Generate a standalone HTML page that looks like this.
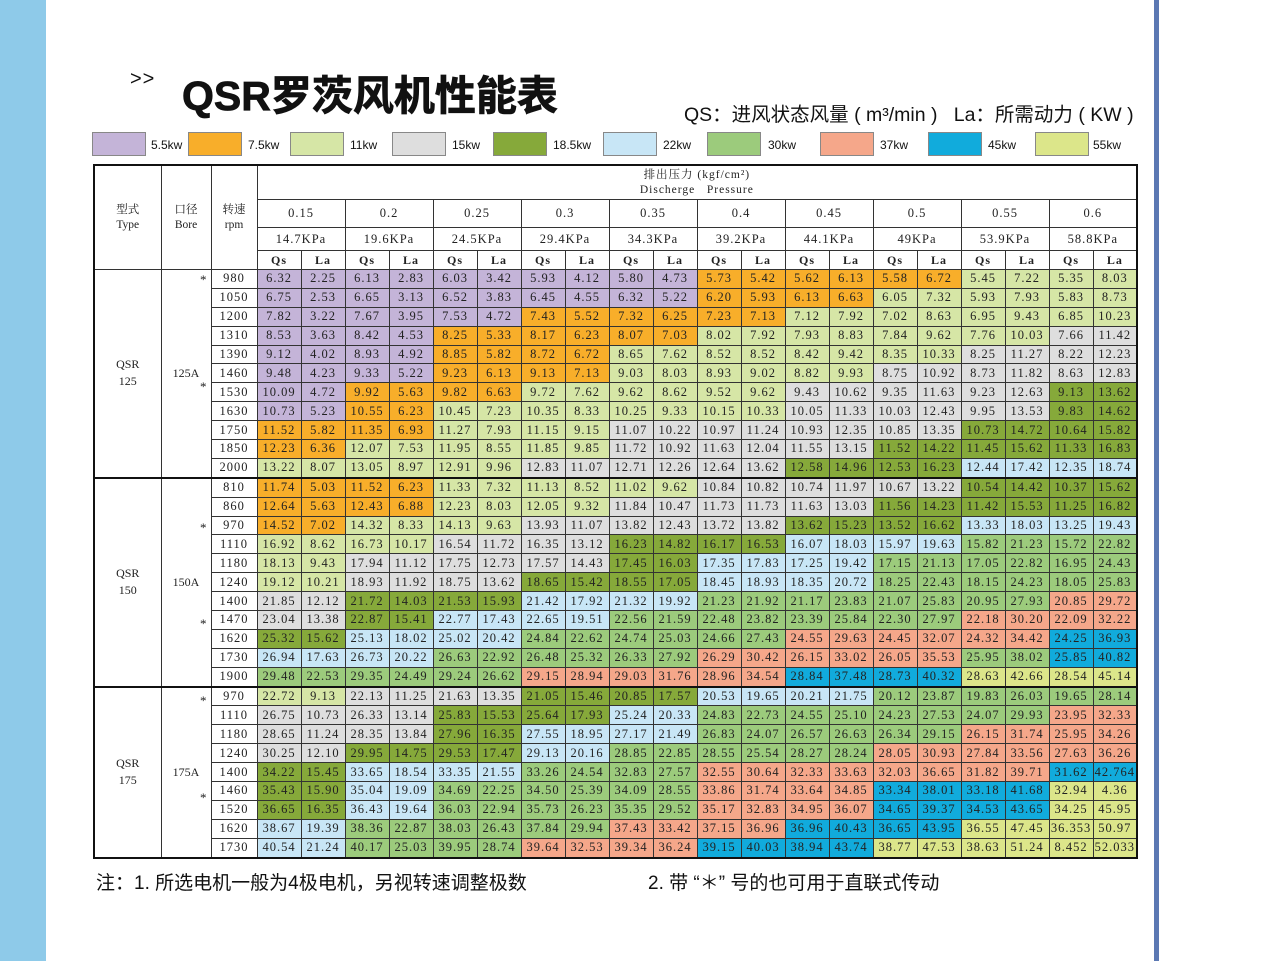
<!DOCTYPE html>
<html><head><meta charset="utf-8"><style>
html,body{margin:0;padding:0;}
body{width:1269px;height:961px;position:relative;background:#fff;overflow:hidden;font-family:"Liberation Sans","Noto Sans CJK SC",sans-serif;}
.band{position:absolute;left:0;top:0;width:46px;height:961px;background:#8ecae9;}
.rline{position:absolute;left:1154px;top:0;width:5px;height:961px;background:#5b78b3;}
.gt{position:absolute;left:130px;top:68px;font-size:20px;color:#111;letter-spacing:1px;}
.title{position:absolute;left:182px;top:62px;font-size:41px;font-weight:bold;color:#111;white-space:nowrap;font-family:"Liberation Sans","Noto Sans CJK SC",sans-serif;-webkit-text-stroke:0.8px #111;}
.sub{position:absolute;left:684px;top:98px;font-size:19.5px;color:#111;white-space:nowrap;}
.sw{position:absolute;top:132px;width:52px;height:22px;border:1px solid #888;}
.lb{position:absolute;top:138px;font-size:12px;color:#111;}
table{position:absolute;left:93px;top:164px;width:1043px;border-collapse:collapse;table-layout:fixed;border:2px solid #111;font-family:"Liberation Serif","Noto Serif CJK SC",serif;font-size:12.5px;color:#222;}
td{border:1px solid #333;text-align:center;padding:0;overflow:hidden;white-space:nowrap;letter-spacing:1px;}
tr.dr td{height:17.9px;line-height:17px;}
.h1 td{height:33px;font-size:11.5px;line-height:15px;}
.h2 td{height:27px;}
.h3 td{height:22px;}
.h4 td{height:18px;font-weight:bold;font-size:12px;}
.hd{font-size:12px;line-height:16px;letter-spacing:0;}
.sep td{border-top:2px solid #111;}
.bore{position:relative;}
.st{position:absolute;right:4px;font-size:13px;}
.a{background:#c4b4d8}.b{background:#f8ae2a}.c{background:#d6e6a6}.d{background:#dedede}.e{background:#86a93a}.f{background:#c8e6f6}.g{background:#9ccb7c}.h{background:#f5a78a}.i{background:#11abdc}.j{background:#dce68a}
.foot{position:absolute;top:868px;font-size:19px;color:#111;white-space:nowrap;}
</style></head><body>
<div class="band"></div><div class="rline"></div>
<div class="gt">&gt;&gt;</div>
<div class="title">QSR罗茨风机性能表</div>
<div class="sub">QS：进风状态风量 ( m³/min )&nbsp;&nbsp;&nbsp;La：所需动力 ( KW )</div>
<div class="sw a" style="left:92px"></div><div class="lb" style="left:151px">5.5kw</div>
<div class="sw b" style="left:188px"></div><div class="lb" style="left:248px">7.5kw</div>
<div class="sw c" style="left:290px"></div><div class="lb" style="left:350px">11kw</div>
<div class="sw d" style="left:392px"></div><div class="lb" style="left:452px">15kw</div>
<div class="sw e" style="left:493px"></div><div class="lb" style="left:553px">18.5kw</div>
<div class="sw f" style="left:603px"></div><div class="lb" style="left:663px">22kw</div>
<div class="sw g" style="left:707px"></div><div class="lb" style="left:768px">30kw</div>
<div class="sw h" style="left:820px"></div><div class="lb" style="left:880px">37kw</div>
<div class="sw i" style="left:928px"></div><div class="lb" style="left:988px">45kw</div>
<div class="sw j" style="left:1035px"></div><div class="lb" style="left:1093px">55kw</div>
<table>
<colgroup><col style="width:67px"><col style="width:50px"><col style="width:46px">
<col style="width:44px"><col style="width:44px"><col style="width:44px"><col style="width:44px"><col style="width:44px"><col style="width:44px"><col style="width:44px"><col style="width:44px"><col style="width:44px"><col style="width:44px"><col style="width:44px"><col style="width:44px"><col style="width:44px"><col style="width:44px"><col style="width:44px"><col style="width:44px"><col style="width:44px"><col style="width:44px"><col style="width:44px"><col style="width:44px"></colgroup>
<tr class="h1"><td rowspan="4" class="hd">型式<br>Type</td><td rowspan="4" class="hd">口径<br>Bore</td><td rowspan="4" class="hd">转速<br>rpm</td><td colspan="20">排出压力 (kgf/cm²)<br>Discherge&nbsp;&nbsp;&nbsp;Pressure</td></tr>
<tr class="h2"><td colspan="2">0.15</td><td colspan="2">0.2</td><td colspan="2">0.25</td><td colspan="2">0.3</td><td colspan="2">0.35</td><td colspan="2">0.4</td><td colspan="2">0.45</td><td colspan="2">0.5</td><td colspan="2">0.55</td><td colspan="2">0.6</td></tr>
<tr class="h3"><td colspan="2">14.7KPa</td><td colspan="2">19.6KPa</td><td colspan="2">24.5KPa</td><td colspan="2">29.4KPa</td><td colspan="2">34.3KPa</td><td colspan="2">39.2KPa</td><td colspan="2">44.1KPa</td><td colspan="2">49KPa</td><td colspan="2">53.9KPa</td><td colspan="2">58.8KPa</td></tr>
<tr class="h4"><td>Qs</td><td>La</td><td>Qs</td><td>La</td><td>Qs</td><td>La</td><td>Qs</td><td>La</td><td>Qs</td><td>La</td><td>Qs</td><td>La</td><td>Qs</td><td>La</td><td>Qs</td><td>La</td><td>Qs</td><td>La</td><td>Qs</td><td>La</td></tr>
<!-- 125A -->
<tr class="dr"><td rowspan="11" class="hd">QSR<br>125</td><td rowspan="11" class="bore hd"><span class="st" style="top:1px">*</span>125A<span class="st" style="top:108px">*</span></td><td>980</td><td class="a">6.32</td><td class="a">2.25</td><td class="a">6.13</td><td class="a">2.83</td><td class="a">6.03</td><td class="a">3.42</td><td class="a">5.93</td><td class="a">4.12</td><td class="a">5.80</td><td class="a">4.73</td><td class="b">5.73</td><td class="b">5.42</td><td class="b">5.62</td><td class="b">6.13</td><td class="b">5.58</td><td class="b">6.72</td><td class="c">5.45</td><td class="c">7.22</td><td class="c">5.35</td><td class="c">8.03</td></tr>
<tr class="dr"><td>1050</td><td class="a">6.75</td><td class="a">2.53</td><td class="a">6.65</td><td class="a">3.13</td><td class="a">6.52</td><td class="a">3.83</td><td class="a">6.45</td><td class="a">4.55</td><td class="a">6.32</td><td class="a">5.22</td><td class="b">6.20</td><td class="b">5.93</td><td class="b">6.13</td><td class="b">6.63</td><td class="c">6.05</td><td class="c">7.32</td><td class="c">5.93</td><td class="c">7.93</td><td class="c">5.83</td><td class="c">8.73</td></tr>
<tr class="dr"><td>1200</td><td class="a">7.82</td><td class="a">3.22</td><td class="a">7.67</td><td class="a">3.95</td><td class="a">7.53</td><td class="a">4.72</td><td class="b">7.43</td><td class="b">5.52</td><td class="b">7.32</td><td class="b">6.25</td><td class="b">7.23</td><td class="b">7.13</td><td class="c">7.12</td><td class="c">7.92</td><td class="c">7.02</td><td class="c">8.63</td><td class="c">6.95</td><td class="c">9.43</td><td class="c">6.85</td><td class="c">10.23</td></tr>
<tr class="dr"><td>1310</td><td class="a">8.53</td><td class="a">3.63</td><td class="a">8.42</td><td class="a">4.53</td><td class="b">8.25</td><td class="b">5.33</td><td class="b">8.17</td><td class="b">6.23</td><td class="b">8.07</td><td class="b">7.03</td><td class="c">8.02</td><td class="c">7.92</td><td class="c">7.93</td><td class="c">8.83</td><td class="c">7.84</td><td class="c">9.62</td><td class="c">7.76</td><td class="c">10.03</td><td class="d">7.66</td><td class="d">11.42</td></tr>
<tr class="dr"><td>1390</td><td class="a">9.12</td><td class="a">4.02</td><td class="a">8.93</td><td class="a">4.92</td><td class="b">8.85</td><td class="b">5.82</td><td class="b">8.72</td><td class="b">6.72</td><td class="c">8.65</td><td class="c">7.62</td><td class="c">8.52</td><td class="c">8.52</td><td class="c">8.42</td><td class="c">9.42</td><td class="c">8.35</td><td class="c">10.33</td><td class="d">8.25</td><td class="d">11.27</td><td class="d">8.22</td><td class="d">12.23</td></tr>
<tr class="dr"><td>1460</td><td class="a">9.48</td><td class="a">4.23</td><td class="a">9.33</td><td class="a">5.22</td><td class="b">9.23</td><td class="b">6.13</td><td class="b">9.13</td><td class="b">7.13</td><td class="c">9.03</td><td class="c">8.03</td><td class="c">8.93</td><td class="c">9.02</td><td class="c">8.82</td><td class="c">9.93</td><td class="d">8.75</td><td class="d">10.92</td><td class="d">8.73</td><td class="d">11.82</td><td class="d">8.63</td><td class="d">12.83</td></tr>
<tr class="dr"><td>1530</td><td class="a">10.09</td><td class="a">4.72</td><td class="b">9.92</td><td class="b">5.63</td><td class="b">9.82</td><td class="b">6.63</td><td class="c">9.72</td><td class="c">7.62</td><td class="c">9.62</td><td class="c">8.62</td><td class="c">9.52</td><td class="c">9.62</td><td class="d">9.43</td><td class="d">10.62</td><td class="d">9.35</td><td class="d">11.63</td><td class="d">9.23</td><td class="d">12.63</td><td class="e">9.13</td><td class="e">13.62</td></tr>
<tr class="dr"><td>1630</td><td class="a">10.73</td><td class="a">5.23</td><td class="b">10.55</td><td class="b">6.23</td><td class="c">10.45</td><td class="c">7.23</td><td class="c">10.35</td><td class="c">8.33</td><td class="c">10.25</td><td class="c">9.33</td><td class="c">10.15</td><td class="c">10.33</td><td class="d">10.05</td><td class="d">11.33</td><td class="d">10.03</td><td class="d">12.43</td><td class="d">9.95</td><td class="d">13.53</td><td class="e">9.83</td><td class="e">14.62</td></tr>
<tr class="dr"><td>1750</td><td class="b">11.52</td><td class="b">5.82</td><td class="b">11.35</td><td class="b">6.93</td><td class="c">11.27</td><td class="c">7.93</td><td class="c">11.15</td><td class="c">9.15</td><td class="d">11.07</td><td class="d">10.22</td><td class="d">10.97</td><td class="d">11.24</td><td class="d">10.93</td><td class="d">12.35</td><td class="d">10.85</td><td class="d">13.35</td><td class="e">10.73</td><td class="e">14.72</td><td class="e">10.64</td><td class="e">15.82</td></tr>
<tr class="dr"><td>1850</td><td class="b">12.23</td><td class="b">6.36</td><td class="c">12.07</td><td class="c">7.53</td><td class="c">11.95</td><td class="c">8.55</td><td class="c">11.85</td><td class="c">9.85</td><td class="d">11.72</td><td class="d">10.92</td><td class="d">11.63</td><td class="d">12.04</td><td class="d">11.55</td><td class="d">13.15</td><td class="e">11.52</td><td class="e">14.22</td><td class="e">11.45</td><td class="e">15.62</td><td class="e">11.33</td><td class="e">16.83</td></tr>
<tr class="dr"><td>2000</td><td class="c">13.22</td><td class="c">8.07</td><td class="c">13.05</td><td class="c">8.97</td><td class="c">12.91</td><td class="c">9.96</td><td class="d">12.83</td><td class="d">11.07</td><td class="d">12.71</td><td class="d">12.26</td><td class="d">12.64</td><td class="d">13.62</td><td class="e">12.58</td><td class="e">14.96</td><td class="e">12.53</td><td class="e">16.23</td><td class="f">12.44</td><td class="f">17.42</td><td class="f">12.35</td><td class="f">18.74</td></tr>
<!-- 150A -->
<tr class="dr sep"><td rowspan="11" class="hd">QSR<br>150</td><td rowspan="11" class="bore hd"><span class="st" style="top:40px">*</span>150A<span class="st" style="top:136px">*</span></td><td>810</td><td class="b">11.74</td><td class="b">5.03</td><td class="b">11.52</td><td class="b">6.23</td><td class="c">11.33</td><td class="c">7.32</td><td class="c">11.13</td><td class="c">8.52</td><td class="c">11.02</td><td class="c">9.62</td><td class="d">10.84</td><td class="d">10.82</td><td class="d">10.74</td><td class="d">11.97</td><td class="d">10.67</td><td class="d">13.22</td><td class="e">10.54</td><td class="e">14.42</td><td class="e">10.37</td><td class="e">15.62</td></tr>
<tr class="dr"><td>860</td><td class="b">12.64</td><td class="b">5.63</td><td class="b">12.43</td><td class="b">6.88</td><td class="c">12.23</td><td class="c">8.03</td><td class="c">12.05</td><td class="c">9.32</td><td class="d">11.84</td><td class="d">10.47</td><td class="d">11.73</td><td class="d">11.73</td><td class="d">11.63</td><td class="d">13.03</td><td class="e">11.56</td><td class="e">14.23</td><td class="e">11.42</td><td class="e">15.53</td><td class="e">11.25</td><td class="e">16.82</td></tr>
<tr class="dr"><td>970</td><td class="b">14.52</td><td class="b">7.02</td><td class="c">14.32</td><td class="c">8.33</td><td class="c">14.13</td><td class="c">9.63</td><td class="d">13.93</td><td class="d">11.07</td><td class="d">13.82</td><td class="d">12.43</td><td class="d">13.72</td><td class="d">13.82</td><td class="e">13.62</td><td class="e">15.23</td><td class="e">13.52</td><td class="e">16.62</td><td class="f">13.33</td><td class="f">18.03</td><td class="f">13.25</td><td class="f">19.43</td></tr>
<tr class="dr"><td>1110</td><td class="c">16.92</td><td class="c">8.62</td><td class="c">16.73</td><td class="c">10.17</td><td class="d">16.54</td><td class="d">11.72</td><td class="d">16.35</td><td class="d">13.12</td><td class="e">16.23</td><td class="e">14.82</td><td class="e">16.17</td><td class="e">16.53</td><td class="f">16.07</td><td class="f">18.03</td><td class="f">15.97</td><td class="f">19.63</td><td class="g">15.82</td><td class="g">21.23</td><td class="g">15.72</td><td class="g">22.82</td></tr>
<tr class="dr"><td>1180</td><td class="c">18.13</td><td class="c">9.43</td><td class="d">17.94</td><td class="d">11.12</td><td class="d">17.75</td><td class="d">12.73</td><td class="d">17.57</td><td class="d">14.43</td><td class="e">17.45</td><td class="e">16.03</td><td class="f">17.35</td><td class="f">17.83</td><td class="f">17.25</td><td class="f">19.42</td><td class="g">17.15</td><td class="g">21.13</td><td class="g">17.05</td><td class="g">22.82</td><td class="g">16.95</td><td class="g">24.43</td></tr>
<tr class="dr"><td>1240</td><td class="c">19.12</td><td class="c">10.21</td><td class="d">18.93</td><td class="d">11.92</td><td class="d">18.75</td><td class="d">13.62</td><td class="e">18.65</td><td class="e">15.42</td><td class="e">18.55</td><td class="e">17.05</td><td class="f">18.45</td><td class="f">18.93</td><td class="f">18.35</td><td class="f">20.72</td><td class="g">18.25</td><td class="g">22.43</td><td class="g">18.15</td><td class="g">24.23</td><td class="g">18.05</td><td class="g">25.83</td></tr>
<tr class="dr"><td>1400</td><td class="d">21.85</td><td class="d">12.12</td><td class="e">21.72</td><td class="e">14.03</td><td class="e">21.53</td><td class="e">15.93</td><td class="f">21.42</td><td class="f">17.92</td><td class="f">21.32</td><td class="f">19.92</td><td class="g">21.23</td><td class="g">21.92</td><td class="g">21.17</td><td class="g">23.83</td><td class="g">21.07</td><td class="g">25.83</td><td class="g">20.95</td><td class="g">27.93</td><td class="h">20.85</td><td class="h">29.72</td></tr>
<tr class="dr"><td>1470</td><td class="d">23.04</td><td class="d">13.38</td><td class="e">22.87</td><td class="e">15.41</td><td class="f">22.77</td><td class="f">17.43</td><td class="f">22.65</td><td class="f">19.51</td><td class="g">22.56</td><td class="g">21.59</td><td class="g">22.48</td><td class="g">23.82</td><td class="g">23.39</td><td class="g">25.84</td><td class="g">22.30</td><td class="g">27.97</td><td class="h">22.18</td><td class="h">30.20</td><td class="h">22.09</td><td class="h">32.22</td></tr>
<tr class="dr"><td>1620</td><td class="e">25.32</td><td class="e">15.62</td><td class="f">25.13</td><td class="f">18.02</td><td class="f">25.02</td><td class="f">20.42</td><td class="g">24.84</td><td class="g">22.62</td><td class="g">24.74</td><td class="g">25.03</td><td class="g">24.66</td><td class="g">27.43</td><td class="h">24.55</td><td class="h">29.63</td><td class="h">24.45</td><td class="h">32.07</td><td class="h">24.32</td><td class="h">34.42</td><td class="i">24.25</td><td class="i">36.93</td></tr>
<tr class="dr"><td>1730</td><td class="f">26.94</td><td class="f">17.63</td><td class="f">26.73</td><td class="f">20.22</td><td class="g">26.63</td><td class="g">22.92</td><td class="g">26.48</td><td class="g">25.32</td><td class="g">26.33</td><td class="g">27.92</td><td class="h">26.29</td><td class="h">30.42</td><td class="h">26.15</td><td class="h">33.02</td><td class="h">26.05</td><td class="h">35.53</td><td class="g">25.95</td><td class="g">38.02</td><td class="i">25.85</td><td class="i">40.82</td></tr>
<tr class="dr"><td>1900</td><td class="g">29.48</td><td class="g">22.53</td><td class="g">29.35</td><td class="g">24.49</td><td class="g">29.24</td><td class="g">26.62</td><td class="h">29.15</td><td class="h">28.94</td><td class="h">29.03</td><td class="h">31.76</td><td class="h">28.96</td><td class="h">34.54</td><td class="i">28.84</td><td class="i">37.48</td><td class="i">28.73</td><td class="i">40.32</td><td class="j">28.63</td><td class="j">42.66</td><td class="j">28.54</td><td class="j">45.14</td></tr>
<!-- 175A -->
<tr class="dr sep"><td rowspan="9" class="hd">QSR<br>175</td><td rowspan="9" class="bore hd"><span class="st" style="top:4px">*</span>175A<span class="st" style="top:101px">*</span></td><td>970</td><td class="c">22.72</td><td class="c">9.13</td><td class="d">22.13</td><td class="d">11.25</td><td class="d">21.63</td><td class="d">13.35</td><td class="e">21.05</td><td class="e">15.46</td><td class="e">20.85</td><td class="e">17.57</td><td class="f">20.53</td><td class="f">19.65</td><td class="f">20.21</td><td class="f">21.75</td><td class="g">20.12</td><td class="g">23.87</td><td class="g">19.83</td><td class="g">26.03</td><td class="g">19.65</td><td class="g">28.14</td></tr>
<tr class="dr"><td>1110</td><td class="d">26.75</td><td class="d">10.73</td><td class="d">26.33</td><td class="d">13.14</td><td class="e">25.83</td><td class="e">15.53</td><td class="e">25.64</td><td class="e">17.93</td><td class="f">25.24</td><td class="f">20.33</td><td class="g">24.83</td><td class="g">22.73</td><td class="g">24.55</td><td class="g">25.10</td><td class="g">24.23</td><td class="g">27.53</td><td class="g">24.07</td><td class="g">29.93</td><td class="h">23.95</td><td class="h">32.33</td></tr>
<tr class="dr"><td>1180</td><td class="d">28.65</td><td class="d">11.24</td><td class="d">28.35</td><td class="d">13.84</td><td class="e">27.96</td><td class="e">16.35</td><td class="f">27.55</td><td class="f">18.95</td><td class="f">27.17</td><td class="f">21.49</td><td class="g">26.83</td><td class="g">24.07</td><td class="g">26.57</td><td class="g">26.63</td><td class="g">26.34</td><td class="g">29.15</td><td class="h">26.15</td><td class="h">31.74</td><td class="h">25.95</td><td class="h">34.26</td></tr>
<tr class="dr"><td>1240</td><td class="d">30.25</td><td class="d">12.10</td><td class="e">29.95</td><td class="e">14.75</td><td class="e">29.53</td><td class="e">17.47</td><td class="f">29.13</td><td class="f">20.16</td><td class="g">28.85</td><td class="g">22.85</td><td class="g">28.55</td><td class="g">25.54</td><td class="g">28.27</td><td class="g">28.24</td><td class="h">28.05</td><td class="h">30.93</td><td class="h">27.84</td><td class="h">33.56</td><td class="h">27.63</td><td class="h">36.26</td></tr>
<tr class="dr"><td>1400</td><td class="e">34.22</td><td class="e">15.45</td><td class="f">33.65</td><td class="f">18.54</td><td class="f">33.35</td><td class="f">21.55</td><td class="g">33.26</td><td class="g">24.54</td><td class="g">32.83</td><td class="g">27.57</td><td class="h">32.55</td><td class="h">30.64</td><td class="h">32.33</td><td class="h">33.63</td><td class="h">32.03</td><td class="h">36.65</td><td class="h">31.82</td><td class="h">39.71</td><td class="i">31.62</td><td class="i">42.764</td></tr>
<tr class="dr"><td>1460</td><td class="e">35.43</td><td class="e">15.90</td><td class="f">35.04</td><td class="f">19.09</td><td class="g">34.69</td><td class="g">22.25</td><td class="g">34.50</td><td class="g">25.39</td><td class="g">34.09</td><td class="g">28.55</td><td class="h">33.86</td><td class="h">31.74</td><td class="h">33.64</td><td class="h">34.85</td><td class="i">33.34</td><td class="i">38.01</td><td class="i">33.18</td><td class="i">41.68</td><td class="j">32.94</td><td class="j">4.36</td></tr>
<tr class="dr"><td>1520</td><td class="e">36.65</td><td class="e">16.35</td><td class="f">36.43</td><td class="f">19.64</td><td class="g">36.03</td><td class="g">22.94</td><td class="g">35.73</td><td class="g">26.23</td><td class="g">35.35</td><td class="g">29.52</td><td class="h">35.17</td><td class="h">32.83</td><td class="h">34.95</td><td class="h">36.07</td><td class="i">34.65</td><td class="i">39.37</td><td class="i">34.53</td><td class="i">43.65</td><td class="j">34.25</td><td class="j">45.95</td></tr>
<tr class="dr"><td>1620</td><td class="f">38.67</td><td class="f">19.39</td><td class="g">38.36</td><td class="g">22.87</td><td class="g">38.03</td><td class="g">26.43</td><td class="g">37.84</td><td class="g">29.94</td><td class="h">37.43</td><td class="h">33.42</td><td class="h">37.15</td><td class="h">36.96</td><td class="i">36.96</td><td class="i">40.43</td><td class="i">36.65</td><td class="i">43.95</td><td class="j">36.55</td><td class="j">47.45</td><td class="j">36.353</td><td class="j">50.97</td></tr>
<tr class="dr"><td>1730</td><td class="f">40.54</td><td class="f">21.24</td><td class="g">40.17</td><td class="g">25.03</td><td class="g">39.95</td><td class="g">28.74</td><td class="h">39.64</td><td class="h">32.53</td><td class="h">39.34</td><td class="h">36.24</td><td class="i">39.15</td><td class="i">40.03</td><td class="i">38.94</td><td class="i">43.74</td><td class="j">38.77</td><td class="j">47.53</td><td class="j">38.63</td><td class="j">51.24</td><td class="j">8.452</td><td class="j">52.033</td></tr>
</table>
<div class="foot" style="left:96px">注：1. 所选电机一般为4极电机，另视转速调整极数</div>
<div class="foot" style="left:648px">2. 带 “＊” 号的也可用于直联式传动</div>
</body></html>
